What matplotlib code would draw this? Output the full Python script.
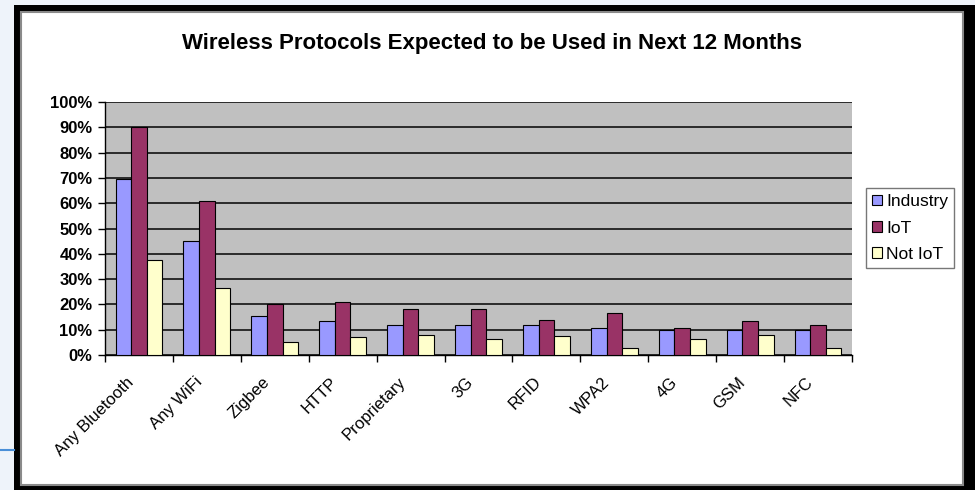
import matplotlib
matplotlib.use('Agg')
import matplotlib.pyplot as plt
from matplotlib.patches import Rectangle
from matplotlib.lines import Line2D
from matplotlib.ticker import MultipleLocator, FuncFormatter
from matplotlib.transforms import ScaledTranslation
import numpy as np

plt.rcParams['font.family'] = ['Liberation Sans', 'DejaVu Sans']

# 数据 (百分比)
categories = ['Any Bluetooth', 'Any WiFi', 'Zigbee', 'HTTP', 'Proprietary',
              '3G', 'RFID', 'WPA2', '4G', 'GSM', 'NFC']
industry = [69.5, 45, 15.5, 13.5, 12, 12, 11.7, 10.7, 9.7, 9.7, 9.7]
iot = [90, 61, 20, 21, 18.3, 18.3, 14, 16.6, 10.7, 13.3, 11.7]
not_iot = [37.5, 26.6, 5.2, 7.2, 7.8, 6.2, 7.4, 2.9, 6.2, 8, 2.9]
series_names = ['Industry', 'IoT', 'Not IoT']
series_colors = ['#9999FF', '#993366', '#FFFFCC']

W, H = 975, 490
fig = plt.figure(figsize=(W / 100, H / 100), dpi=100)
fig.patch.set_facecolor('#EEF3FA')

# 外框 (黑色阴影 + 白色底)
fig.patches.append(Rectangle((14 / W, 0), (W - 14) / W, 1 - 5 / H,
                             transform=fig.transFigure, facecolor='black',
                             edgecolor='none', zorder=-5))
fig.patches.append(Rectangle((21 / W, 5 / H), 942 / W, 473 / H,
                             transform=fig.transFigure, facecolor='white',
                             edgecolor='#8a8a8a', linewidth=1.5, zorder=-4))
fig.lines.append(Line2D([0, 14 / W], [1 - 450 / H, 1 - 450 / H],
                        transform=fig.transFigure, color='#4a8fd8', lw=1.5))

ax = fig.add_axes([105 / W, 1 - 355 / H, 747 / W, 253 / H])
ax.set_facecolor('#C0C0C0')

x = np.arange(len(categories))
bw = 0.23
for i, (vals, name, col) in enumerate(zip([industry, iot, not_iot],
                                          series_names, series_colors)):
    ax.bar(x + (i - 1) * bw, vals, width=bw, color=col, edgecolor='black',
           linewidth=0.8, label=name, zorder=3)

ax.set_xlim(-0.5, len(categories) - 0.5)
ax.set_ylim(0, 100)
ax.yaxis.set_major_locator(MultipleLocator(10))
ax.yaxis.set_major_formatter(FuncFormatter(lambda v, p: f'{v:.0f}%'))
ax.grid(axis='y', color='#111111', linewidth=1.2, zorder=1)
ax.set_axisbelow(True)

for s in ['top', 'right']:
    ax.spines[s].set_visible(False)
for s in ['left', 'bottom']:
    ax.spines[s].set_color('black')
    ax.spines[s].set_linewidth(1.0)

ax.tick_params(axis='y', length=5, width=1, pad=4, labelsize=12)
for lab in ax.get_yticklabels():
    lab.set_fontweight('bold')

# 类别刻度在边界, 标签在中心
ax.set_xticks(np.arange(len(categories) + 1) - 0.5)
ax.set_xticklabels([])
ax.tick_params(axis='x', length=5, width=1)
ax.set_xticks(x, minor=True)
ax.set_xticklabels(categories, minor=True, rotation=45, ha='right',
                   rotation_mode='anchor', fontsize=12)
ax.tick_params(axis='x', which='minor', length=0, pad=14)
shift = ScaledTranslation(-9 / 72, 0, fig.dpi_scale_trans)
for lab in ax.get_xticklabels(minor=True):
    lab.set_transform(lab.get_transform() + shift)

fig.text(492 / W, 1 - 44 / H, 'Wireless Protocols Expected to be Used in Next 12 Months',
         ha='center', va='center', fontsize=16, fontweight='bold')

leg = ax.legend(loc='center left', bbox_to_anchor=(866 / W, 1 - 228 / H),
                bbox_transform=fig.transFigure, fontsize=12.5, frameon=True,
                fancybox=False, edgecolor='#555555', handlelength=0.55,
                handleheight=0.55, handletextpad=0.25, borderpad=0.35,
                labelspacing=0.65, borderaxespad=0)
leg.get_frame().set_linewidth(1.0)

fig.savefig('out.png', dpi=100, facecolor=fig.get_facecolor())
